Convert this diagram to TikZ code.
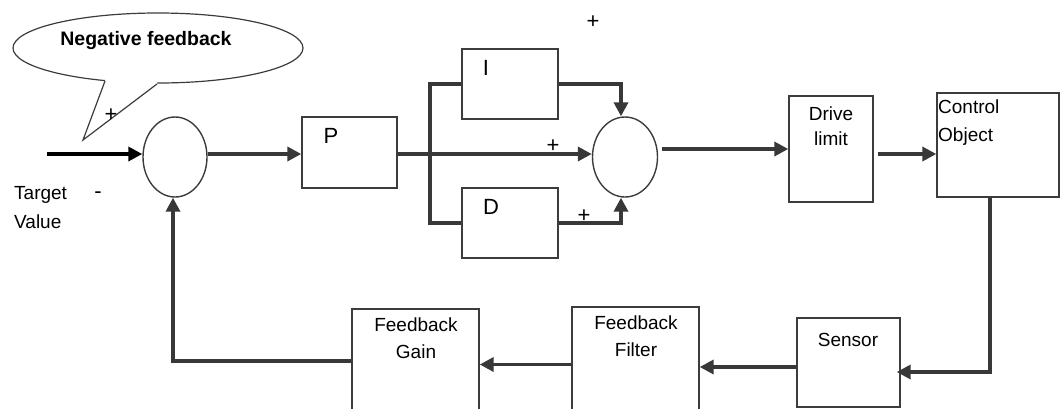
\documentclass[tikz,border=0pt]{standalone}
\usepackage{fontspec}
\setmainfont{Liberation Sans}
\usetikzlibrary{arrows.meta,shapes.geometric}
\definecolor{boxc}{HTML}{3C3C3C}
\definecolor{linec}{HTML}{383838}
\begin{document}
\begin{tikzpicture}[x=1pt,y=-1pt,
  box/.style={draw=boxc, line width=1.4pt, rectangle, inner sep=0pt},
  sumnode/.style={draw=boxc, line width=1.4pt, ellipse, inner sep=0pt, minimum width=64pt, minimum height=80pt},
  conn/.style={draw=linec, line width=3.5pt, -{Triangle[length=14pt,width=14pt]}},
  wire/.style={draw=linec, line width=3.5pt},
  txt/.style={inner sep=0pt, font=\fontsize{19}{27}\selectfont},
  big/.style={inner sep=0pt, font=\fontsize{22}{26}\selectfont}]
\useasboundingbox (0,0) rectangle (1060,408);

% callout
\node[draw=boxc, line width=1.2pt, ellipse, minimum width=290pt, minimum height=70pt, fill=white] (callout) at (158,48) {};
\fill[white] (83,140) -- (105,81) -- (105,70) -- (157,70) -- (157,84) -- cycle;
\draw[boxc, line width=1.2pt] (105,81) -- (83,140) -- (157,84);
\node[inner sep=0pt, font=\fontsize{19.5}{24}\selectfont\bfseries] (cbtext) at (146,40) {Negative feedback};

% nodes
\node[sumnode] (sum1) at (175,157) {};
\node[box, minimum width=95pt, minimum height=71pt] (P) at (349.5,152.5) {};
\node[big] (Ptxt) at (331,136) {P};
\node[box, minimum width=96pt, minimum height=70pt] (I) at (510,84) {};
\node[big] (Itxt) at (486,68) {I};
\node[box, minimum width=96pt, minimum height=70pt] (D) at (510,223) {};
\node[big] (Dtxt) at (491,207) {D};
\node[sumnode, minimum width=65pt] (sum2) at (625,157) {};
\node[box, minimum width=84pt, minimum height=106pt] (drive) at (831,149) {};
\node[txt, align=center, font=\fontsize{19}{25}\selectfont] (drivetxt) at (831,126) {Drive\\limit};
\node[box, minimum width=122pt, minimum height=104pt] (ctrl) at (998,145) {};
\node[txt, align=left, anchor=west, font=\fontsize{19}{28}\selectfont] (ctrltxt) at (938,123) {Control\\Object};
\node[box, minimum width=103pt, minimum height=89pt] (sensor) at (848.5,362.5) {};
\node[txt] (sensortxt) at (848,340) {Sensor};
\node[box, minimum width=127pt, minimum height=113pt] (filter) at (635.5,363.5) {};
\node[txt, align=center] (filtertxt) at (636,336.5) {Feedback\\Filter};
\node[box, minimum width=127pt, minimum height=111pt] (gain) at (415.5,364.5) {};
\node[txt, align=center] (gaintxt) at (416,338.5) {Feedback\\Gain};

% labels
\node[txt, align=left, anchor=west, font=\fontsize{19}{29}\selectfont] (target) at (14,208) {Target\\Value};
\node[big] (plusA) at (111,115) {+};
\node[big, anchor=base] (minusA) at (98,198) {-};
\node[big] (plusB) at (593,22) {+};
\node[big] (plusC) at (553,146) {+};
\node[big] (plusD) at (584,216) {+};

% connectors
\coordinate (in) at (47,154);
\coordinate (br) at (430,154);
\draw[conn, draw=black] (in) -- (in -| sum1.west);
\draw[conn] ([yshift=3pt]sum1.east) -- ([yshift=3pt]sum1.east -| P.west);
\draw[conn] (P.east |- br) -- (br -| sum2.west);
\draw[wire] (I.west) -| (br) |- (D.west);
\draw[conn] (I.east) -| ([xshift=-4pt]sum2.north);
\draw[conn] (D.east) -| ([xshift=-4pt]sum2.south);
\draw[conn] ([xshift=4pt]sum2.east |- drive.west) -- (drive.west);
\draw[conn] ([xshift=4pt,yshift=-5pt]drive.east) -- ([yshift=-5pt]drive.east -| ctrl.west);
\draw[conn] ([xshift=-8pt]ctrl.south) |- ([xshift=-4pt,yshift=-9.5pt]sensor.east);
\draw[conn] ([yshift=-4.5pt]sensor.west) -- ([yshift=-4.5pt]sensor.west -| filter.east);
\draw[conn] (filter.west |- gain.east) -- (gain.east);
\draw[conn] ([yshift=3.5pt]gain.west) -| ([xshift=-2pt]sum1.south);
\end{tikzpicture}
\end{document}
